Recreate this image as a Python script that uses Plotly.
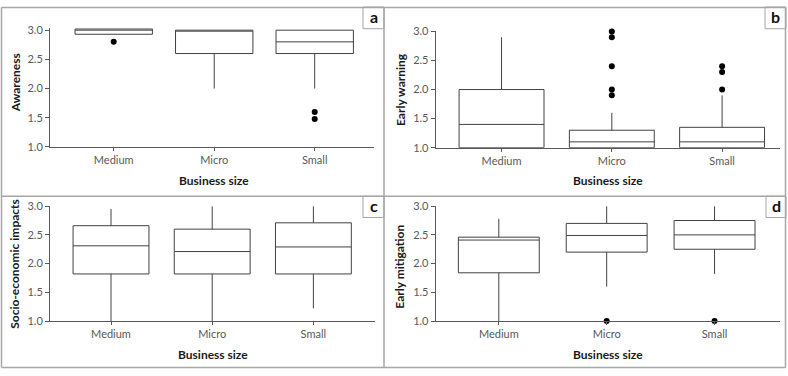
import plotly.graph_objects as go

# ---------------- data ----------------
categories = ["Medium", "Micro", "Small"]

awareness_q1 = [2.93, 2.6, 2.6]
awareness_median = [3.0, 3.0, 2.8]
awareness_q3 = [3.02, 3.0, 3.0]
awareness_low = [2.93, 2.0, 2.0]
awareness_high = [3.02, 3.0, 3.0]
awareness_out_x = ["Medium", "Small", "Small"]
awareness_out_y = [2.8, 1.6, 1.48]

warning_q1 = [1.0, 1.0, 1.0]
warning_median = [1.4, 1.1, 1.1]
warning_q3 = [2.0, 1.3, 1.35]
warning_low = [1.0, 1.0, 1.0]
warning_high = [2.9, 1.6, 1.9]
warning_out_x = ["Micro", "Micro", "Micro", "Micro", "Micro", "Small", "Small", "Small"]
warning_out_y = [3.0, 2.9, 2.4, 2.0, 1.9, 2.4, 2.3, 2.0]

socio_q1 = [1.82, 1.82, 1.82]
socio_median = [2.31, 2.21, 2.29]
socio_q3 = [2.66, 2.6, 2.71]
socio_low = [1.0, 1.0, 1.22]
socio_high = [2.95, 3.0, 3.0]

mitig_q1 = [1.84, 2.2, 2.25]
mitig_median = [2.41, 2.49, 2.5]
mitig_q3 = [2.46, 2.7, 2.75]
mitig_low = [1.0, 1.6, 1.82]
mitig_high = [2.78, 3.0, 3.0]
mitig_out_x = ["Micro", "Small"]
mitig_out_y = [1.0, 1.0]

y_titles = ["Awareness", "Early warning", "Socio-economic impacts", "Early mitigation"]
panel_letters = ["a", "b", "c", "d"]
x_title = "Business size"
y_ticks = [1.0, 1.5, 2.0, 2.5, 3.0]

# ---------------- layout helpers ----------------
W, H = 788, 376
FONT = "Lato"
BOX_LINE = "#404040"
AXIS_LINE = "#595959"
BORDER = "#a6a6a6"


def px(x):
    return x / W


def py(y):
    return 1 - y / H


fig = go.Figure()

panels = [
    dict(stats=(awareness_q1, awareness_median, awareness_q3, awareness_low, awareness_high),
         out=(awareness_out_x, awareness_out_y), width=0.77),
    dict(stats=(warning_q1, warning_median, warning_q3, warning_low, warning_high),
         out=(warning_out_x, warning_out_y), width=0.77),
    dict(stats=(socio_q1, socio_median, socio_q3, socio_low, socio_high),
         out=None, width=0.75),
    dict(stats=(mitig_q1, mitig_median, mitig_q3, mitig_low, mitig_high),
         out=(mitig_out_x, mitig_out_y), width=0.75),
]

geom = [
    dict(xl=50, xr=374, y1=145, y3=24, xrange=[-0.634, 2.59], ytop=3.04),
    dict(xl=435.7, xr=780, y1=145.7, y3=25.3, xrange=[-0.597, 2.525], ytop=3.0),
    dict(xl=50, xr=375, y1=325.3, y3=206.3, xrange=[-0.603, 2.609], ytop=3.0),
    dict(xl=435.7, xr=779.7, y1=325.3, y3=206.3, xrange=[-0.585, 2.604], ytop=3.0),
]

for i, (p, g) in enumerate(zip(panels, geom)):
    n = "" if i == 0 else str(i + 1)
    xa, ya = "x" + n, "y" + n
    q1, med, q3, lo, hi = p["stats"]
    fig.add_trace(go.Box(
        x=categories, q1=q1, median=med, q3=q3, lowerfence=lo, upperfence=hi,
        xaxis=xa, yaxis=ya, width=p["width"], whiskerwidth=0,
        fillcolor="white", line=dict(color=BOX_LINE, width=1),
        boxpoints=False, showlegend=False, hoverinfo="skip",
    ))
    if p["out"] is not None:
        fig.add_trace(go.Scatter(
            x=p["out"][0], y=p["out"][1], xaxis=xa, yaxis=ya, mode="markers",
            marker=dict(color="black", size=6), cliponaxis=False,
            showlegend=False, hoverinfo="skip",
        ))
    ppu = (g["y1"] - g["y3"]) / 2.0
    ytop_px = g["y3"] - (g["ytop"] - 3.0) * ppu
    axis_common = dict(showline=True, linecolor=AXIS_LINE, linewidth=1, ticks="outside",
                       tickcolor=AXIS_LINE, showgrid=False, zeroline=False,
                       tickfont=dict(family=FONT, size=11, color="#595959"))
    fig.layout["xaxis" + n] = dict(
        domain=[px(g["xl"]), px(g["xr"])], anchor=ya, type="category",
        categoryorder="array", categoryarray=categories, range=g["xrange"],
        ticklen=3, fixedrange=True, **axis_common)
    fig.layout["yaxis" + n] = dict(
        domain=[py(g["y1"]), py(ytop_px)], anchor=xa, range=[1.0, g["ytop"]],
        tickvals=y_ticks, tickformat=".1f", ticklen=4, fixedrange=True, **axis_common)

# axis titles
xt_pos = [(214, 180), (608, 180), (213, 359.5), (608, 359.5)]
yt_pos = [(15, 79), (400, 86), (15, 266), (400, 269)]
annotations = []
for i in range(4):
    annotations.append(dict(x=px(xt_pos[i][0]), y=py(xt_pos[i][1]), xref="paper", yref="paper",
                            text="<b>%s</b>" % x_title, showarrow=False,
                            xanchor="center", yanchor="middle",
                            font=dict(family=FONT, size=12, color="#1a1a1a")))
    annotations.append(dict(x=px(yt_pos[i][0]), y=py(yt_pos[i][1]), xref="paper", yref="paper",
                            text="<b>%s</b>" % y_titles[i], showarrow=False, textangle=-90,
                            xanchor="center", yanchor="middle",
                            font=dict(family=FONT, size=12, color="#1a1a1a")))

# panel letter boxes
letter_boxes = [(363, 384, 0, 22.5), (765, 786, 0, 22.5), (363, 384, 196, 218), (766, 786, 196, 218)]
shapes = []
for i, (x0, x1, y0, y1) in enumerate(letter_boxes):
    shapes.append(dict(type="rect", xref="paper", yref="paper",
                       x0=px(x0), x1=px(x1), y0=py(y1), y1=py(y0),
                       line=dict(color=BORDER, width=1), fillcolor="white"))
    annotations.append(dict(x=px((x0 + x1) / 2), y=py((y0 + y1) / 2 - 1), xref="paper", yref="paper",
                            text="<b>%s</b>" % panel_letters[i], showarrow=False,
                            xanchor="center", yanchor="middle",
                            font=dict(family=FONT, size=16, color="#111111")))

# panel borders
border_lines = [
    (1.5, 0.5, 785.5, 0.5),
    (1.5, 373.5, 785.5, 373.5),
    (1.5, 0.5, 1.5, 373.5),
    (785.5, 0.5, 785.5, 373.5),
    (384, 0.5, 384, 373.5),
    (1.5, 196, 785.5, 196),
]
for (x0, y0, x1, y1) in border_lines:
    shapes.append(dict(type="line", xref="paper", yref="paper",
                       x0=px(x0), y0=py(y0), x1=px(x1), y1=py(y1),
                       line=dict(color=BORDER, width=1.5)))

fig.update_layout(
    width=W, height=H, margin=dict(l=0, r=0, t=0, b=0),
    paper_bgcolor="white", plot_bgcolor="white",
    shapes=shapes, annotations=annotations, showlegend=False,
    font=dict(family=FONT),
)

fig.write_html("out.html", config={"displayModeBar": False})
